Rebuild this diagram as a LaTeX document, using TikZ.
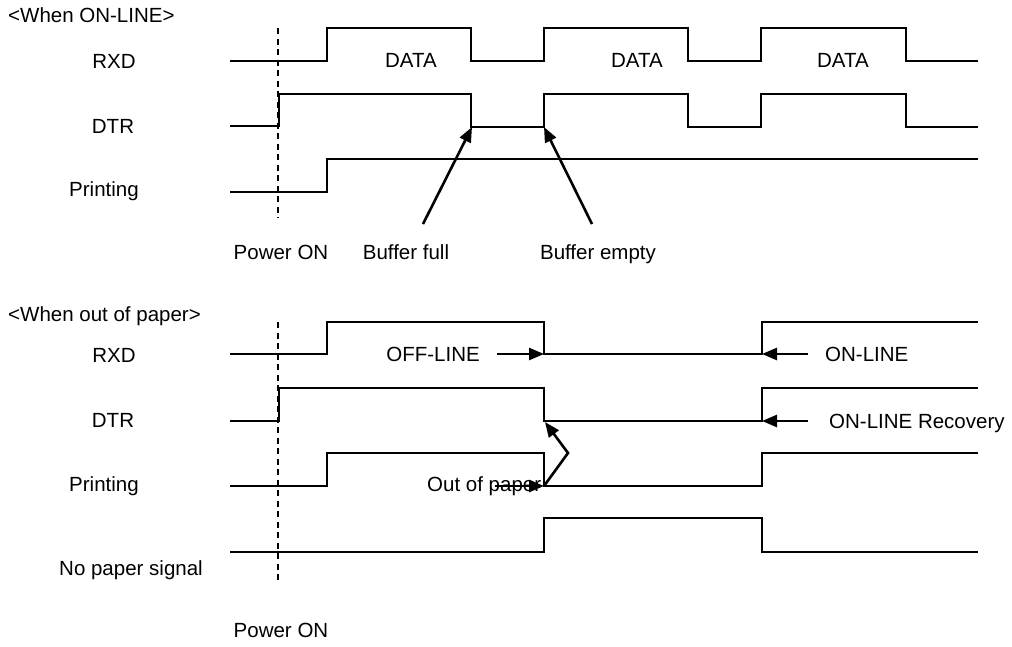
\documentclass[tikz,border=0pt]{standalone}
\usepackage{fontspec}
\setmainfont{Liberation Sans}
\usetikzlibrary{arrows.meta}
\begin{document}
\begin{tikzpicture}[x=1pt,y=-1pt,
  every node/.style={inner sep=0pt,text height=14.7pt,text depth=0pt,font=\fontsize{20.5}{24}\selectfont},
  sig/.style={line width=2pt,line join=miter},
  dsh/.style={line width=1.5pt,dash pattern=on 6pt off 4.5pt},
  arr/.style={line width=2.6pt,-{Triangle[length=15pt,width=12pt]}}]
\useasboundingbox (0,0) rectangle (1012,646);
% ===== top section =====
\node[anchor=west] (t1) at (8,15) {<When ON-LINE>};
\node (lr1) at (114,61) {RXD};
\node (ld1) at (113,126) {DTR};
\node (lp1) at (104,189) {Printing};
\draw[dsh] (278,28) -- (278,218);
\draw[sig] (230,61) -- (327,61) -- (327,28) -- (471,28) -- (471,61) -- (544,61) -- (544,28) -- (688,28) -- (688,61) -- (761,61) -- (761,28) -- (906,28) -- (906,61) -- (978,61);
\draw[sig] (230,126) -- (279,126) -- (279,94) -- (471,94) -- (471,127) -- (544,127) -- (544,94) -- (688,94) -- (688,127) -- (761,127) -- (761,94) -- (906,94) -- (906,127) -- (978,127);
\draw[sig] (230,192) -- (327,192) -- (327,159) -- (978,159);
\node (d1) at (411,60) {DATA};
\node (d2) at (637,60) {DATA};
\node (d3) at (843,60) {DATA};
\node (pon1) at (281,252) {Power ON};
\node (bf) at (406,252) {Buffer full};
\node (be) at (598,252) {Buffer empty};
\coordinate (bft) at (423,224);
\coordinate (bfh) at (472,127);
\coordinate (bet) at (592,224);
\coordinate (beh) at (544,127);
\draw[arr] (bft) -- (bfh);
\draw[arr] (bet) -- (beh);
% ===== bottom section =====
\node[anchor=west] (t2) at (8,314) {<When out of paper>};
\node (lr2) at (114,355) {RXD};
\node (ld2) at (113,420) {DTR};
\node (lp2) at (104,484) {Printing};
\node (ln2) at (131,568) {No paper signal};
\draw[dsh] (278,322) -- (278,582);
\draw[sig] (230,354) -- (327,354) -- (327,322) -- (544,322) -- (544,354) -- (762,354) -- (762,322) -- (978,322);
\draw[sig] (230,421) -- (279,421) -- (279,388) -- (544,388) -- (544,421) -- (762,421) -- (762,388) -- (978,388);
\draw[sig] (230,486) -- (327,486) -- (327,453) -- (544,453) -- (544,486) -- (762,486) -- (762,453) -- (978,453);
\draw[sig] (230,552) -- (544,552) -- (544,518) -- (762,518) -- (762,552) -- (978,552);
\node[anchor=east] (off) at (480,354) {OFF-LINE};
\node[anchor=west] (on) at (825,354) {ON-LINE};
\node[anchor=west] (onr) at (829,421) {ON-LINE Recovery};
\node[anchor=west] (oop) at (427,484) {Out of paper};
\node (pon2) at (281,630) {Power ON};
\coordinate (offt) at (497,354);
\coordinate (offh) at (544,354);
\coordinate (ont) at (808,354);
\coordinate (onh) at (762,354);
\coordinate (onrt) at (808,421);
\coordinate (onrh) at (762,421);
\coordinate (oopt) at (495,486);
\coordinate (ooph) at (544,486);
\coordinate (oopk) at (568,453);
\coordinate (oopu) at (545,422);
\draw[arr] (offt) -- (offh);
\draw[arr] (ont) -- (onh);
\draw[arr] (onrt) -- (onrh);
\draw[arr] (oopt) -- (ooph);
\draw[arr] (ooph) -- (oopk) -- (oopu);
\end{tikzpicture}
\end{document}
